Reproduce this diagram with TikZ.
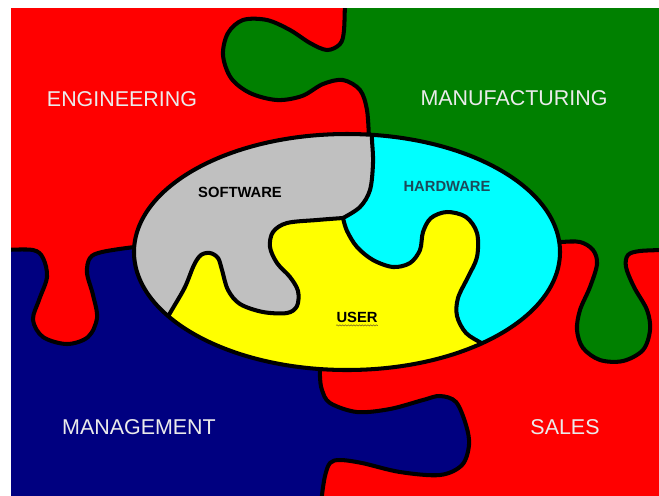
\documentclass[tikz,border=0pt]{standalone}
\usepackage{fontspec}
\setmainfont{Liberation Sans}
\usetikzlibrary{decorations.pathmorphing}

\definecolor{pzred}{HTML}{FF0000}
\definecolor{pzgreen}{HTML}{008000}
\definecolor{pzblue}{HTML}{000080}
\definecolor{pzgray}{HTML}{C0C0C0}
\definecolor{pzcyan}{HTML}{00FFFF}
\definecolor{pzyellow}{HTML}{FFFF00}
\definecolor{labelpale}{HTML}{EBEBEB}
\definecolor{hwtext}{HTML}{1C4A5A}
\definecolor{squiggle}{HTML}{8A7A20}

\tikzset{
  edge/.style={draw=black, line width=2.3pt, line join=round, line cap=round},
  biglabel/.style={inner sep=0pt, text=labelpale, font=\fontsize{12.2}{14}\selectfont},
  smalllabel/.style={inner sep=0pt, text=black, font=\bfseries\fontsize{8.4}{10}\selectfont},
  % outer boundaries between the four large pieces
  curveEG/.style={insert path={-- plot[smooth,tension=0.55] coordinates{
     (345,-5) (344,30) (340,44) (327,50) (310,43) (290,30) (267,20) (243,20)
     (228,33) (223,55) (231,78) (250,93) (277,100) (302,96) (323,84) (343,80)
     (360,90) (367,110) (369,140)}}},
  curveEB/.style={insert path={-- plot[smooth,tension=0.55] coordinates{
     (5,250) (33,250) (43,258) (47,277) (39,300) (33,320) (43,337) (67,344)
     (88,337) (97,318) (93,295) (87,273) (90,258) (102,252) (135,247) (150,247)}}},
  curveBS/.style={insert path={-- plot[smooth,tension=0.55] coordinates{
     (320,360) (320,377) (322,390) (330,403) (357,412) (390,409) (423,400)
     (440,396) (456,402) (466,425) (469,445) (462,465) (440,475) (400,472)
     (362,463) (340,460) (330,463) (325,476) (322,495) (322,502)}}},
  curveMS/.style={insert path={-- plot[smooth,tension=0.55] coordinates{
     (540,243) (560,242) (580,242) (593,250) (597,264) (590,287) (580,310)
     (577,330) (583,348) (600,360) (623,361) (643,350) (650,330) (647,310)
     (634,287) (626,267) (628,255) (640,251) (665,250)}}},
  % boundaries inside the oval
  curveGC/.style={insert path={-- plot[smooth,tension=0.55] coordinates{
     (371,122) (372,140) (373,163) (370,190) (360,207) (343,218)}}},
  curveGY/.style={insert path={-- plot[smooth,tension=0.55] coordinates{
     (343,218) (317,220) (287,223) (273,232) (270,247) (277,263) (290,277)
     (298,291) (297,306) (287,313) (263,312) (240,304) (228,290) (222,270)
     (218,258) (210,253) (201,255) (194,265) (185,287) (173,308) (160,330)}}},
  curveCY/.style={insert path={-- plot[smooth,tension=0.55] coordinates{
     (343,218) (347,231) (357,247) (373,260) (393,267) (410,263) (420,250)
     (423,232) (431,218) (447,212) (466,217) (477,233) (477,257) (468,277)
     (458,298) (457,316) (466,333) (483,344) (495,352)}}},
}

\begin{document}
\begin{tikzpicture}[x=0.02cm, y=-0.02cm]
  \useasboundingbox (0,0) rectangle (659,495);
  \fill[white] (0,0) rectangle (659,495);

  \begin{scope}
    \clip (11,8) rectangle (659,495);

    % red pieces (engineering and sales) form the base
    \fill[pzred] (0,0) rectangle (670,510);

    % manufacturing piece
    \fill[pzgreen] (665,-5) -- (345,-5) [curveEG] -- (347,252) -- (540,243) [curveMS] -- cycle;

    % management piece
    \fill[pzblue] (5,250) [curveEB] -- (347,252) -- (320,360) [curveBS] -- (5,502) -- cycle;

    % outlines of the large pieces
    \draw[edge] (345,-5) [curveEG];
    \draw[edge] (5,250) [curveEB];
    \draw[edge] (320,360) [curveBS];
    \draw[edge] (540,243) [curveMS];

    % the oval with its three pieces
    \fill[pzyellow] (347,252) ellipse [x radius=213, y radius=118];
    \begin{scope}
      \clip (347,252) ellipse [x radius=213, y radius=118];
      \fill[pzgray] (371,100) -- (371,122) [curveGC] [curveGY] -- (100,360) -- (100,100) -- cycle;
      \fill[pzcyan] (371,100) -- (371,122) [curveGC] [curveCY] -- (600,380) -- (600,100) -- cycle;
      \draw[edge] (371,122) [curveGC];
      \draw[edge] (343,218) [curveGY];
      \draw[edge] (343,218) [curveCY];
    \end{scope}
    \draw[edge] (347,252) ellipse [x radius=213, y radius=118];
  \end{scope}

  % labels
  \node[biglabel] (eng) at (122,99.5) {ENGINEERING};
  \node[biglabel] (mfg) at (514,98.5) {MANUFACTURING};
  \node[biglabel] (mgmt) at (139,427) {MANAGEMENT};
  \node[biglabel] (sales) at (565,427) {SALES};
  \node[smalllabel] (sw) at (240,192.5) {SOFTWARE};
  \node[smalllabel, text=hwtext] (hw) at (447,186) {HARDWARE};
  \node[smalllabel] (usr) at (357,317.5) {USER};
  \draw[squiggle, line width=0.4pt, decorate,
        decoration={snake, amplitude=0.3pt, segment length=1.6pt}]
    ([yshift=-1.6pt]usr.base west) -- ([yshift=-1.6pt]usr.base east);
\end{tikzpicture}
\end{document}
